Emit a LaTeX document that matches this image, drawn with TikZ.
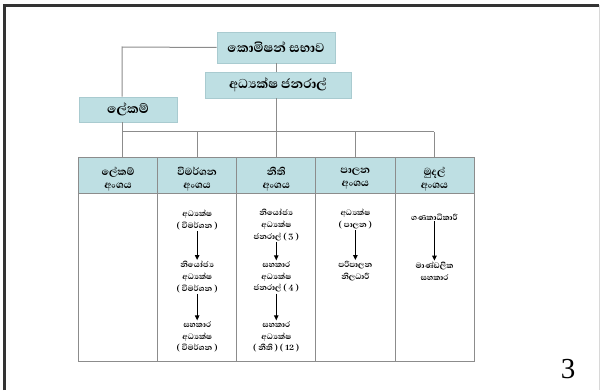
\documentclass[tikz,border=0pt]{standalone}
\usepackage{fontspec}
\usetikzlibrary{arrows.meta}
\newfontfamily\sinhalafont[Script=Sinhala, BoldFont={Abhaya Libre Bold}]{Abhaya Libre}
\newfontfamily\pagenumfont{Liberation Serif}
\newcommand\mytightlines{\lineskiplimit=-30pt\relax}
\definecolor{boxfill}{HTML}{BEDFE3}
\definecolor{boxedge}{HTML}{A9CBD0}
\definecolor{linegray}{HTML}{8C8C8C}
\definecolor{framedark}{HTML}{333333}
\definecolor{framelight}{HTML}{D8D8D8}
\begin{document}
\begin{tikzpicture}[x=1pt,y=-1pt,
  titlebox/.style={draw=boxedge, fill=boxfill, line width=0.8pt, inner sep=0pt,
    font={\sinhalafont\bfseries\fontsize{16.5}{16.5}\selectfont}},
  conn/.style={draw=linegray, line width=1pt},
  headcell/.style={draw=linegray, fill=boxfill, line width=0.8pt, minimum width=79.1pt,
    minimum height=36pt, inner sep=0pt},
  headtext/.style={align=center, inner sep=0pt,
    font={\sinhalafont\bfseries\fontsize{13}{13}\selectfont\mytightlines}},
  bodycell/.style={draw=linegray, line width=0.8pt, minimum width=79.1pt,
    minimum height=168pt, inner sep=0pt},
  bodytext/.style={align=center, inner sep=0pt,
    font={\sinhalafont\bfseries\fontsize{10}{11.8}\selectfont\mytightlines}},
  arr/.style={-{Triangle[length=5pt,width=4.5pt]}, line width=1pt, black, shorten <=1pt, shorten >=1pt}]
\useasboundingbox (0,0) rectangle (601,390);
% frame
\draw[framedark, line width=2.4pt] (4.3,390) -- (4.3,5.5) -- (599,5.5);
\draw[framelight, line width=0.8pt] (599.5,5.5) -- (599.5,390);

% title boxes
\node[titlebox, minimum width=118pt, minimum height=31pt] (top) at (276,47.5) {කොමිෂන් සභාව};
\node[titlebox, minimum width=146pt, minimum height=26pt] (dg) at (278,85) {අධ්‍යක්ෂ ජනරාල්};
\node[titlebox, minimum width=98pt, minimum height=25pt] (lek) at (128,109.5) {ලේකම්};

% table
\foreach \i/\x/\t in {1/118.05/{ලේකම්\\අංශය},2/197.15/{විමර්ශන\\අංශය},3/276.25/{නීති\\අංශය},4/355.35/{පාලන\\අංශය},5/434.45/{මුදල්\\අංශය}}{
  \node[headcell] (h\i) at (\x,175) {};
  \node[headtext] (t\i) at (\x,179) {\t};
  \node[bodycell] (b\i) at (\x,277) {};
}

% connectors
\coordinate (lk) at (122,47);
\coordinate (busL) at (122,132);
\coordinate (busR) at (h5.north |- busL);
\draw[conn] (top.west) -- (lk) -- (lk |- lek.north);
\draw[conn] (top.south) -- (top.south |- dg.north);
\draw[conn] (top.south |- dg.south) -- (top.south |- h3.north);
\draw[conn] (busL |- lek.south) -- (busL |- h1.north);
\draw[conn] (busL) -- (busR);
\foreach \i in {2,4,5}{
  \draw[conn] (h\i.north |- busL) -- (h\i.north);
}

% column 2
\node[bodytext] (c2a) at (197.15,220) {අධ්‍යක්ෂ\\( විමර්ශන )};
\node[bodytext] (c2b) at (197.15,277) {නියෝජ්‍ය\\අධ්‍යක්ෂ\\( විමර්ශන )};
\node[bodytext] (c2c) at (197.15,337) {සහකාර\\අධ්‍යක්ෂ\\( විමර්ශන )};
\draw[arr] (c2a) -- (c2b);
\draw[arr] (c2b) -- (c2c);
% column 3
\node[bodytext] (c3a) at (276.25,225) {නියෝජ්‍ය\\අධ්‍යක්ෂ\\ජනරාල් ( 3 )};
\node[bodytext] (c3b) at (276.25,277) {සහකාර\\අධ්‍යක්ෂ\\ජනරාල් ( 4 )};
\node[bodytext] (c3c) at (276.25,337) {සහකාර\\අධ්‍යක්ෂ\\( නීති ) ( 12 )};
\draw[arr] (c3a) -- (c3b);
\draw[arr] (c3b) -- (c3c);
% column 4
\node[bodytext] (c4a) at (355.35,219) {අධ්‍යක්ෂ\\( පාලන )};
\node[bodytext] (c4b) at (355.35,271) {පරිපාලන\\නිලධාරී};
\draw[arr] (c4a) -- (c4b);
% column 5
\node[bodytext] (c5a) at (434.45,217) {ගණකාධිකාරී};
\node[bodytext] (c5b) at (434.45,271) {මාණ්ඩලික\\සහකාර};
\draw[arr] (c5a) -- (c5b);

% page number
\node[font=\pagenumfont\fontsize{29}{29}\selectfont, inner sep=0pt] (pg) at (568,369) {3};
\end{tikzpicture}
\end{document}
